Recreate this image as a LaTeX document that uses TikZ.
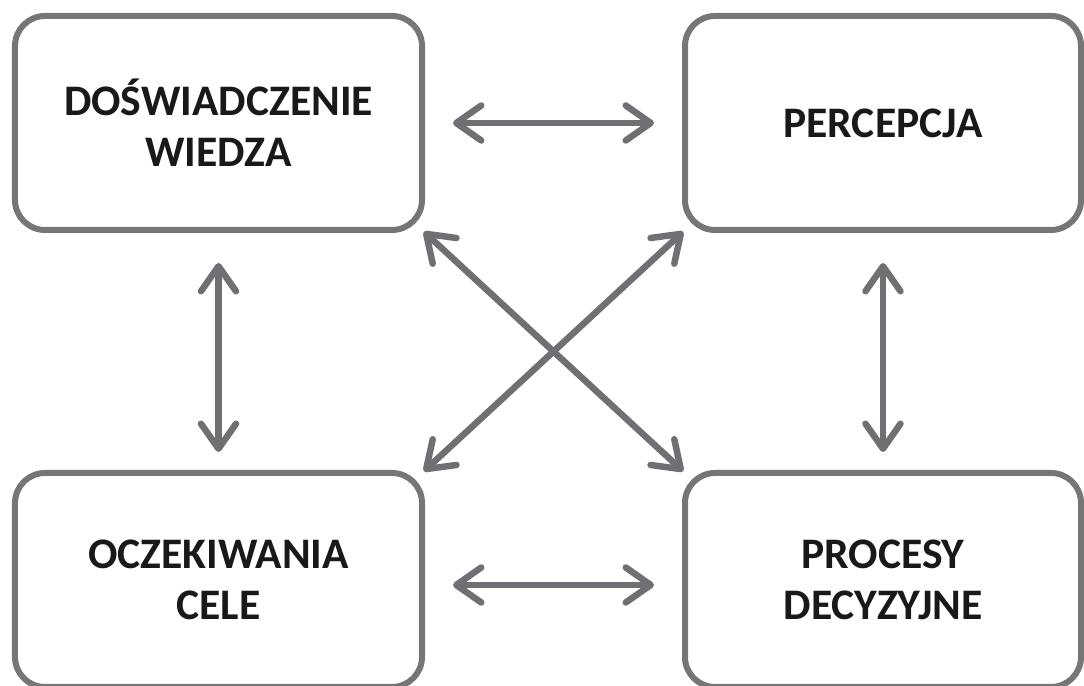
\documentclass[tikz,border=0pt]{standalone}
\usepackage{fontspec}
\setmainfont{Carlito}
\usetikzlibrary{arrows.meta}
\definecolor{framegray}{RGB}{118,118,121}
\definecolor{arrowgray}{RGB}{112,112,116}

\begin{document}
\begin{tikzpicture}
        \useasboundingbox (0,0) rectangle (21.68,13.72);

        \begin{scope}[every node/.style={draw=framegray, line width=0.12cm, rounded corners=0.6cm,
            outer sep=0pt, align=center, minimum height=4.28cm, text=black!90,
            font=\bfseries\fontsize{24.8}{29}\selectfont}]
          \node[minimum width=8.14cm] (dw)  at (4.37,11.26)  {DOŚWIADCZENIE\\WIEDZA};
          \node[minimum width=7.92cm] (per) at (17.66,11.26) {PERCEPCJA};
          \node[minimum width=8.14cm] (oc)  at (4.37,2.12)   {OCZEKIWANIA\\CELE};
          \node[minimum width=7.92cm] (pd)  at (17.66,2.12)  {PROCESY\\DECYZYJNE};
        \end{scope}

        \begin{scope}[every edge/.style={draw=arrowgray, line width=0.13cm,
            {Straight Barb[round,length=0.5cm,width=0.7cm]}-{Straight Barb[round,length=0.5cm,width=0.7cm]}}]
          \path (dw.east)  edge[shorten <=0.62cm, shorten >=0.62cm] (per.west);
          \path ([yshift=-0.1cm]oc.east) edge[shorten <=0.62cm, shorten >=0.62cm] ([yshift=-0.1cm]oc.east -| pd.west);
          \path (dw.south) edge[shorten <=0.66cm, shorten >=0.42cm] (oc.north);
          \path (per.south) edge[shorten <=0.66cm, shorten >=0.42cm] (pd.north);
          \path (dw.south east) edge[shorten <=0.05cm, shorten >=0.05cm] (pd.north west);
          \path (per.south west) edge[shorten <=0.05cm, shorten >=0.05cm] (oc.north east);
        \end{scope}

      \end{tikzpicture}
\end{document}
